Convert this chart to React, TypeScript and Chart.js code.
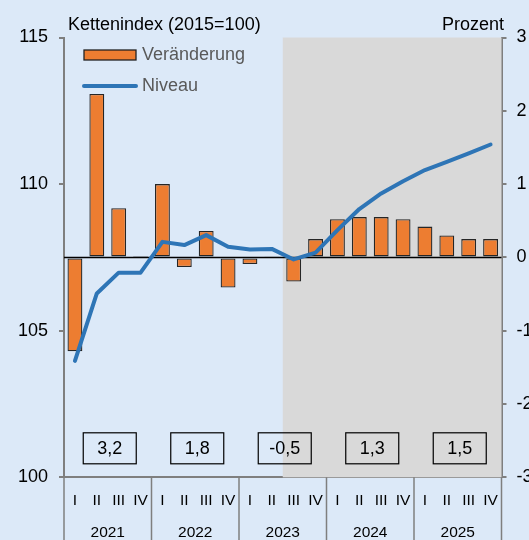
import React, { useEffect, useRef } from "react";
import { Chart, registerables } from "chart.js";

Chart.register(...registerables);

const years = ["2021", "2022", "2023", "2024", "2025"];
const quarterLabels = ["I", "II", "III", "IV"];
const categories = years.flatMap((y) => quarterLabels.map((q) => `${q} ${y}`));

// Quarterly change in percent (right axis)
const changeValues = [
  -1.28, 2.23, 0.67, 0.02,
  1.0, -0.13, 0.36, -0.41,
  -0.09, 0.01, -0.33, 0.25,
  0.52, 0.55, 0.55, 0.52,
  0.42, 0.3, 0.25, 0.25,
];

// Chain index level (left axis)
const levelValues = [
  103.97, 106.27, 106.98, 106.98,
  108.03, 107.92, 108.26, 107.86,
  107.77, 107.79, 107.43, 107.66,
  108.43, 109.15, 109.68, 110.1,
  110.48, 110.76, 111.05, 111.35,
];

const annualValues = ["3,2", "1,8", "-0,5", "1,3", "1,5"];
const forecastStartIndex = 10;

const FONT = "'Liberation Sans', Arial, sans-serif";
const BG = "#dce9f8";
const SHADE = "#d9d9d9";
const AXIS = "#7f7f7f";
const ORANGE = "#ed7d31";
const BLUE = "#2e75b6";

const customPlugin = {
  id: "custom",
  beforeDraw(chart: any) {
    const { ctx, width, height } = chart;
    ctx.save();
    ctx.fillStyle = BG;
    ctx.fillRect(0, 0, width, height);
    ctx.restore();
  },
  beforeDatasetsDraw(chart: any) {
    const { ctx, chartArea, scales } = chart;
    const x = scales.x;
    const step = x.getPixelForValue(1) - x.getPixelForValue(0);
    const sx = x.getPixelForValue(forecastStartIndex) - step / 2;
    ctx.save();
    ctx.fillStyle = SHADE;
    ctx.fillRect(sx, chartArea.top, chartArea.right - sx, chartArea.bottom - chartArea.top);
    // zero line
    const y0 = scales.y1.getPixelForValue(0);
    ctx.strokeStyle = "#000";
    ctx.lineWidth = 1.5;
    ctx.beginPath();
    ctx.moveTo(chartArea.left, y0);
    ctx.lineTo(chartArea.right, y0);
    ctx.stroke();
    ctx.restore();
  },
  afterDraw(chart: any) {
    const { ctx, chartArea, scales, height } = chart;
    const x = scales.x;
    const step = x.getPixelForValue(1) - x.getPixelForValue(0);
    ctx.save();
    // year separators
    ctx.strokeStyle = AXIS;
    ctx.lineWidth = 1.5;
    for (let k = 0; k <= years.length; k++) {
      const px = k === 0 ? chartArea.left : k === years.length ? chartArea.right : x.getPixelForValue(k * 4) - step / 2;
      ctx.beginPath();
      ctx.moveTo(px, chartArea.bottom);
      ctx.lineTo(px, height);
      ctx.stroke();
    }
    // year labels
    ctx.fillStyle = "#000";
    ctx.font = `15.5px ${FONT}`;
    ctx.textAlign = "center";
    ctx.textBaseline = "middle";
    years.forEach((yr, k) => {
      const cx = (x.getPixelForValue(k * 4) + x.getPixelForValue(k * 4 + 3)) / 2;
      ctx.fillText(yr, cx, chartArea.bottom + 55);
    });
    // annual boxes
    ctx.font = `18px ${FONT}`;
    ctx.strokeStyle = "#000";
    ctx.lineWidth = 1.2;
    annualValues.forEach((v, k) => {
      const cx = (x.getPixelForValue(k * 4) + x.getPixelForValue(k * 4 + 3)) / 2 + 2;
      const bw = 53;
      const bh = 31;
      const top = chartArea.bottom - 44.5;
      ctx.strokeRect(cx - bw / 2, top, bw, bh);
      ctx.fillText(v, cx, top + bh / 2 + 1);
    });
    // titles
    ctx.fillStyle = "#000";
    ctx.font = `18px ${FONT}`;
    ctx.textAlign = "left";
    ctx.fillText("Kettenindex (2015=100)", 68, 25);
    ctx.textAlign = "right";
    ctx.fillText("Prozent", 504, 25);
    // legend
    const ds = chart.data.datasets;
    ctx.textAlign = "left";
    ctx.fillStyle = ORANGE;
    ctx.fillRect(84, 50, 52, 10);
    ctx.strokeStyle = "#222";
    ctx.lineWidth = 1.3;
    ctx.strokeRect(84, 50, 52, 10);
    ctx.fillStyle = "#595959";
    ctx.fillText(ds[1].label, 142, 55);
    ctx.strokeStyle = BLUE;
    ctx.lineWidth = 4;
    ctx.lineCap = "round";
    ctx.beginPath();
    ctx.moveTo(84, 86);
    ctx.lineTo(136, 86);
    ctx.stroke();
    ctx.fillText(ds[0].label, 142, 86);
    ctx.restore();
  },
};

export default function App() {
  const ref = useRef<HTMLCanvasElement>(null);
  useEffect(() => {
    if (!ref.current) return;
    const chart = new Chart(ref.current, {
      type: "bar",
      data: {
        labels: categories,
        datasets: [
          {
            type: "line",
            label: "Niveau",
            data: levelValues,
            yAxisID: "y",
            borderColor: BLUE,
            backgroundColor: BLUE,
            borderWidth: 4,
            pointRadius: 0,
            tension: 0,
            borderCapStyle: "round",
            borderJoinStyle: "round",
            order: 0,
          } as any,
          {
            type: "bar",
            label: "Veränderung",
            data: changeValues,
            yAxisID: "y1",
            backgroundColor: ORANGE,
            borderColor: "#262626",
            borderWidth: 1.3,
            borderSkipped: false,
            barPercentage: 0.68,
            categoryPercentage: 1,
            order: 1,
          } as any,
        ],
      },
      options: {
        responsive: false,
        animation: false,
        layout: { padding: { top: 37.5, left: 0, right: 0, bottom: 0 } },
        plugins: { legend: { display: false }, tooltip: { enabled: false } },
        scales: {
          x: {
            offset: true,
            grid: { display: false, drawTicks: false },
            border: { display: true, color: AXIS, width: 2 },
            ticks: {
              autoSkip: false,
              maxRotation: 0,
              padding: 14,
              color: "#000",
              font: { family: FONT, size: 15.5 },
              callback: (_v: any, i: number) => quarterLabels[i % 4],
            },
            afterFit: (s: any) => {
              s.height = 62.7;
            },
          },
          y: {
            position: "left",
            min: 100,
            max: 115,
            ticks: { stepSize: 5, padding: 11, color: "#000", font: { family: FONT, size: 18 } },
            grid: { drawOnChartArea: false, drawTicks: true, tickLength: 5, color: AXIS, lineWidth: 2 },
            border: { display: true, color: AXIS, width: 2 },
            afterFit: (s: any) => {
              s.width = 64;
            },
          },
          y1: {
            position: "right",
            min: -3,
            max: 3,
            ticks: { stepSize: 1, padding: 10, color: "#000", font: { family: FONT, size: 18 } },
            grid: { drawOnChartArea: false, drawTicks: true, tickLength: 5, color: AXIS, lineWidth: 2 },
            border: { display: true, color: AXIS, width: 2 },
            afterFit: (s: any) => {
              s.width = 27.5;
            },
          },
        },
      },
      plugins: [customPlugin],
    });
    return () => chart.destroy();
  }, []);
  return (
    <div style={{ position: "absolute", left: 0, top: 0, width: 529, height: 540 }}>
      <canvas ref={ref} width={529} height={540} style={{ width: 529, height: 540 }} />
    </div>
  );
}
